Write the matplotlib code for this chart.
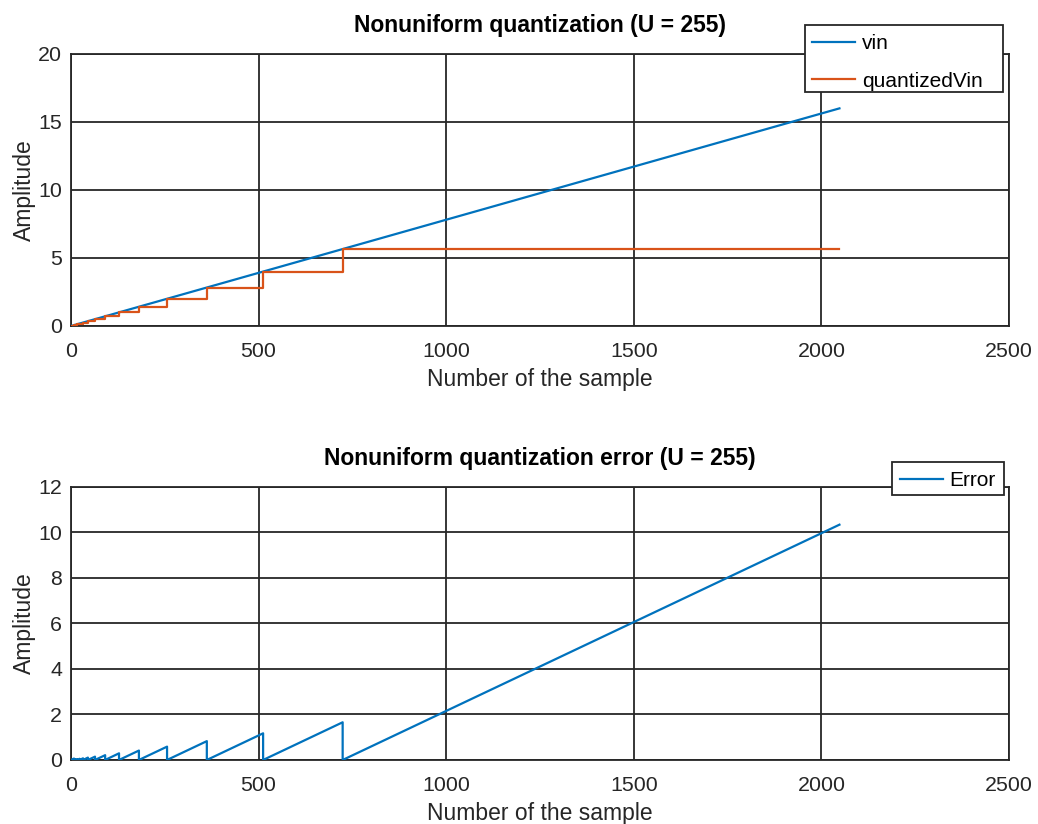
import matplotlib
matplotlib.use("Agg")
import matplotlib.pyplot as plt
from matplotlib.patches import Rectangle

plt.rcParams['font.family'] = ['Liberation Sans', 'DejaVu Sans']

# Input ramp (linear): sample range and amplitude range
vin_samples = [0, 2048]
vin_values = [0.0, 16.0]

# Quantized output: sample index where each new level begins, and the level
step_samples = [0, 8, 11, 16, 23, 32, 45, 64, 91, 128, 181, 256, 362, 512, 724]
step_levels = [0.0, 0.0625, 0.088, 0.125, 0.177, 0.25, 0.354, 0.5, 0.707,
               1.0, 1.414, 2.0, 2.828, 4.0, 5.657]

# Error sawtooth: (sample, error) vertices
err_samples = [0, 8, 8, 11, 11, 16, 16, 23, 23, 32, 32, 45, 45, 64, 64,
               91, 91, 128, 128, 181, 181, 256, 256, 362, 362, 512, 512,
               724, 724, 2048]
err_values = [0.0, 0.0625, 0.0, 0.0255, 0.0, 0.037, 0.0, 0.052, 0.0, 0.073, 0.0,
              0.104, 0.0, 0.146, 0.0, 0.211, 0.0, 0.293, 0.0, 0.414, 0.0,
              0.586, 0.0, 0.828, 0.0, 1.172, 0.0, 1.657, 0.0, 10.343]

x_ticks = [0, 500, 1000, 1500, 2000, 2500]
top_yticks = [0, 5, 10, 15, 20]
bot_yticks = [0, 2, 4, 6, 8, 10, 12]

blue = '#0072BD'
orange = '#D95319'
gridc = '#262626'

fig = plt.figure(figsize=(10.38, 8.24), dpi=100)
ax1 = fig.add_axes([0.0684, 0.6044, 0.9037, 0.3301])
ax2 = fig.add_axes([0.0684, 0.0777, 0.9037, 0.3313])

# quantized step series
qx = list(step_samples) + [vin_samples[-1]]
qy = list(step_levels) + [step_levels[-1]]

ax1.plot(vin_samples, vin_values, color=blue, lw=1.6, label='vin', zorder=3)
ax1.step(qx, qy, where='post', color=orange, lw=1.6, label='quantizedVin', zorder=3)
ax2.plot(err_samples, err_values, color=blue, lw=1.6, label='Error', zorder=3)

for ax, yt, title in [(ax1, top_yticks, 'Nonuniform quantization (U = 255)'),
                      (ax2, bot_yticks, 'Nonuniform quantization error (U = 255)')]:
    ax.set_xlim(0, 2500)
    ax.set_ylim(yt[0], yt[-1])
    ax.set_xticks(x_ticks)
    ax.set_yticks(yt)
    ax.grid(True, color=gridc, lw=1.3, ls='-')
    ax.set_axisbelow(True)
    for s in ax.spines.values():
        s.set_color(gridc)
        s.set_linewidth(1.3)
    ax.tick_params(axis='x', length=0, labelsize=15.4, colors='#262626', pad=11.5)
    ax.tick_params(axis='y', length=0, labelsize=15.4, colors='#262626', pad=6.5)
    ax.set_xlabel('Number of the sample', fontsize=16.5, color='#262626', labelpad=5)
    ax.set_ylabel('Amplitude', fontsize=16.5, color='#262626', labelpad=1.5)
    ax.set_title(title, fontsize=16.5, fontweight='bold', pad=16)

# legend frames (drawn as boxes so the box can be wider than its content)
ax1.add_patch(Rectangle((0.7825, 0.8603), 0.9936 - 0.7825, 1.1066 - 0.8603,
                        transform=ax1.transAxes, facecolor='white', edgecolor=gridc,
                        lw=1.3, clip_on=False, zorder=4.9))
ax2.add_patch(Rectangle((0.8753, 0.9707), 0.9947 - 0.8753, 1.0916 - 0.9707,
                        transform=ax2.transAxes, facecolor='white', edgecolor=gridc,
                        lw=1.3, clip_on=False, zorder=4.9))

leg1 = ax1.legend(loc='upper left', bbox_to_anchor=(0.7805, 1.1066), fontsize=15,
                  frameon=False, borderaxespad=0, handlelength=2.07,
                  handletextpad=0.3, borderpad=0.44, labelspacing=0.89)
leg1.set_zorder(5)
leg2 = ax2.legend(loc='upper left', bbox_to_anchor=(0.8733, 1.0916), fontsize=15,
                  frameon=False, borderaxespad=0, handlelength=2.1,
                  handletextpad=0.29, borderpad=0.45)
leg2.set_zorder(5)

fig.savefig('out.png', dpi=100)
